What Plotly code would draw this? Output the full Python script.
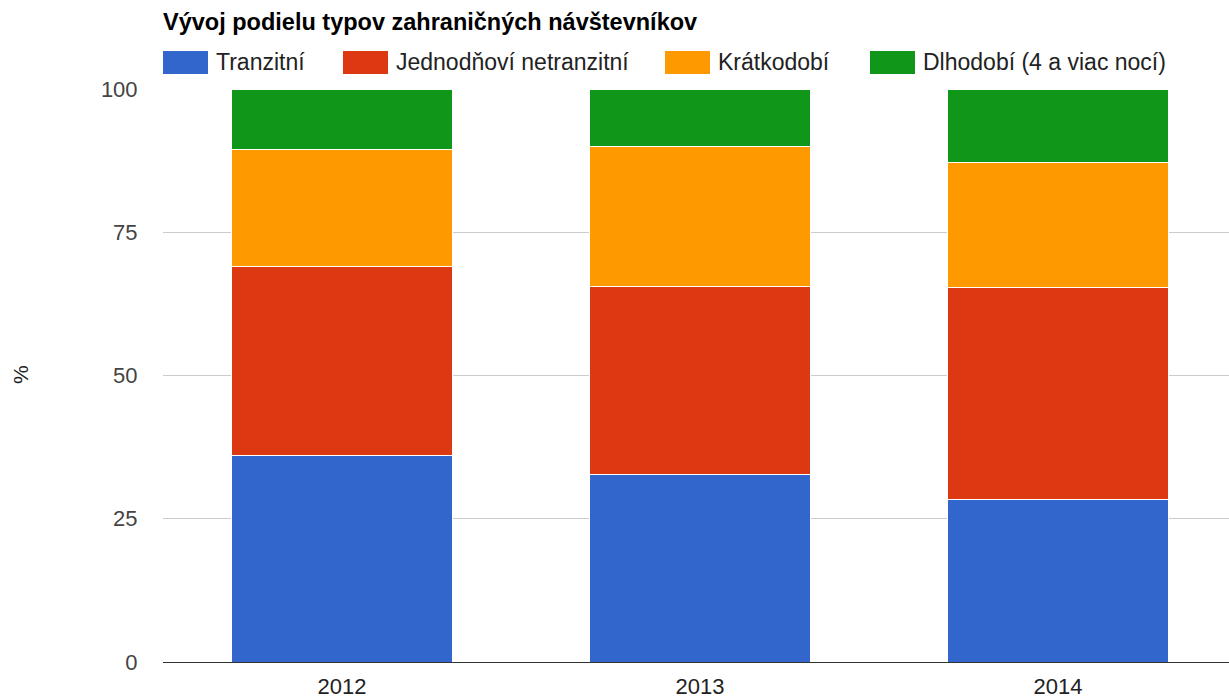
import plotly.graph_objects as go

years = ["2012", "2013", "2014"]
series_names = ["Tranzitní", "Jednodňoví netranzitní", "Krátkodobí", "Dlhodobí (4 a viac nocí)"]
tranzitni = [36.1, 32.8, 28.4]
jednodnovi = [33.0, 32.8, 36.9]
kratkodobi = [20.4, 24.3, 21.8]
dlhodobi = [10.5, 10.1, 12.9]
colors = ["#3366cc", "#dc3912", "#ff9900", "#109618"]
y_ticks = [0, 25, 50, 75, 100]

W, H = 1229, 699
L, T, B, R = 163, 89, 37, 0
FONT = "Liberation Sans, Arial, sans-serif"

fig = go.Figure()
for name, vals, col in zip(series_names, [tranzitni, jednodnovi, kratkodobi, dlhodobi], colors):
    fig.add_trace(go.Bar(x=years, y=vals, name=name, marker_color=col,
                         marker_line_color="white", marker_line_width=1, showlegend=False))

# manual legend (wide swatches like the original); coords in window pixels
pw, ph = W - L - R, H - T - B
def px_x(x):
    return (x - L) / pw
def px_y(y):
    return (H - B - y) / ph
leg_x = [163, 343, 665, 870]
for name, col, x0 in zip(series_names, colors, leg_x):
    fig.add_shape(type="rect", xref="paper", yref="paper",
                  x0=px_x(x0), x1=px_x(x0 + 45), y0=px_y(74), y1=px_y(51),
                  fillcolor=col, line=dict(color=col, width=0))
    fig.add_annotation(xref="paper", yref="paper", x=px_x(x0 + 51), y=px_y(62),
                       text=name, showarrow=False, xanchor="left", yanchor="middle",
                       font=dict(family=FONT, size=23, color="#222222"))

fig.add_annotation(xref="paper", yref="paper", x=px_x(20), y=px_y(375), text="%",
                   textangle=-90, showarrow=False, xanchor="center", yanchor="middle",
                   font=dict(family=FONT, size=21, color="#222222"))

# category spacing in the reference is ~358 px
x_hi = -0.5 + pw / 358.0

fig.update_layout(
    template="none",
    barmode="stack",
    bargap=0.383,
    width=W, height=H,
    margin=dict(l=L, r=R, t=T, b=B, pad=0),
    plot_bgcolor="white", paper_bgcolor="white",
    title=dict(text="<b>Vývoj podielu typov zahraničných návštevníkov</b>",
               xref="container", yref="container", x=L / W, xanchor="left",
               y=1 - 22 / H, yanchor="middle",
               font=dict(family=FONT, size=23.5, color="#000000")),
    font=dict(family=FONT, size=22, color="#222222"),
    xaxis=dict(type="category", range=[-0.5, x_hi], showgrid=False, ticks="outside", ticklen=5,
               tickcolor="rgba(0,0,0,0)", showline=False, zeroline=False, automargin=False,
               tickfont=dict(family=FONT, size=22, color="#222222")),
    yaxis=dict(range=[0, 100], tickvals=y_ticks, showgrid=True, gridcolor="#cccccc",
               gridwidth=1, zeroline=True, zerolinecolor="#333333", zerolinewidth=1,
               showline=False, automargin=False,
               ticks="outside", ticklen=20, tickcolor="rgba(0,0,0,0)",
               tickfont=dict(family=FONT, size=22, color="#444444")),
)

# remove the default 8px page margin so the figure fills the window exactly
fig.write_html("out.html", config={"displayModeBar": False},
               post_script="document.body.style.margin='0';document.body.style.overflow='hidden';")
